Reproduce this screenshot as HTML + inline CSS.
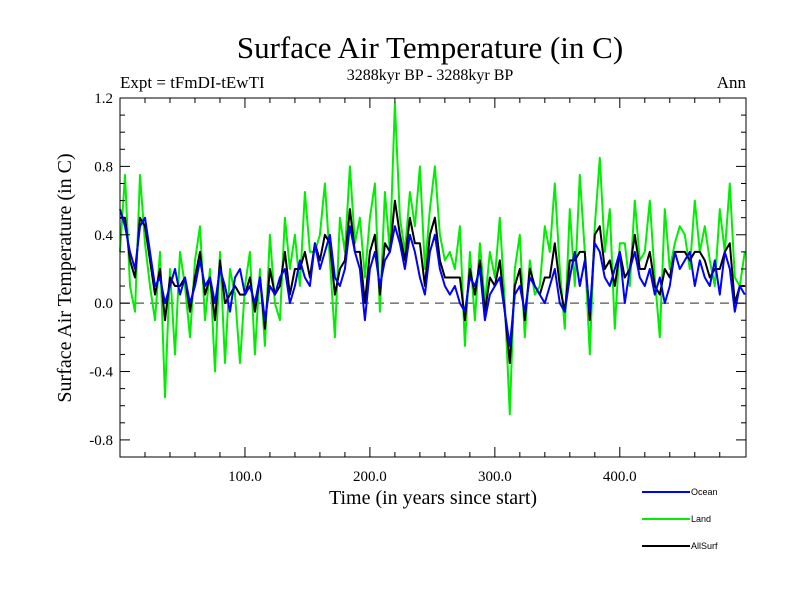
<!DOCTYPE html>
<html><head><meta charset="utf-8"><style>
body{margin:0;background:#fff;}
svg{display:block;font-family:"Liberation Serif",serif;}
</style></head><body>
<svg id="chart" width="800" height="600" viewBox="0 0 800 600">
<text x="430" y="58" font-size="31" text-anchor="middle">Surface Air Temperature (in C)</text>
<text x="430" y="80" font-size="16" text-anchor="middle">3288kyr BP - 3288kyr BP</text>
<text x="120" y="88" font-size="17">Expt = tFmDI-tEwTI</text>
<text x="746" y="88" font-size="17" text-anchor="end">Ann</text>
<text transform="translate(71,278) rotate(-90)" font-size="20" text-anchor="middle">Surface Air Temperature (in C)</text>
<text x="433" y="504" font-size="20" text-anchor="middle">Time (in years since start)</text>
<g id="plot"></g>
<g id="legend" font-family="Liberation Sans, sans-serif" font-size="9">
<line x1="642" y1="492" x2="690" y2="492" stroke="#0000ff" stroke-width="2"/>
<text x="691" y="495">Ocean</text>
<line x1="642" y1="519" x2="690" y2="519" stroke="#00ee00" stroke-width="2"/>
<text x="691" y="522">Land</text>
<line x1="642" y1="546" x2="690" y2="546" stroke="#000" stroke-width="2"/>
<text x="691" y="549">AllSurf</text>
</g>
</svg>
<script>
const yearStep = 4;
const oceanValues = [0.55,0.45,0.3,0.2,0.45,0.5,
0.3,0.1,0.15,0.0,0.1,0.2,0.05,0.15,0.0,0.1,
0.25,0.1,0.15,0.0,0.2,0.1,-0.05,0.15,0.2,0.05,
0.1,0.0,0.15,-0.1,0.1,0.05,0.15,0.2,0.0,0.1,
0.25,0.15,0.1,0.35,0.2,0.3,0.4,0.15,0.1,0.2,
0.45,0.3,0.2,-0.1,0.2,0.3,0.1,0.25,0.3,0.45,
0.35,0.2,0.4,0.3,0.15,0.05,0.3,0.4,0.2,0.1,
0.05,0.1,0.0,-0.05,0.15,0.1,0.2,-0.1,0.05,0.1,
0.15,-0.05,-0.25,0.05,0.1,-0.05,0.15,0.1,0.05,0.0,
0.1,0.2,0.0,-0.05,0.15,0.3,0.1,0.25,-0.05,0.35,
0.3,0.15,0.1,0.2,0.3,0.0,0.2,0.3,0.15,0.1,
0.2,0.05,0.15,0.0,0.1,0.3,0.2,0.25,0.3,0.1,
0.25,0.15,0.1,0.25,0.05,0.3,0.2,-0.05,0.1,0.05];
const landValues = [0.3,0.75,0.1,-0.05,0.75,0.35,
0.1,-0.1,0.3,-0.55,0.2,-0.3,0.3,0.1,-0.2,0.25,
0.45,-0.1,0.2,-0.4,0.3,-0.35,0.2,0.05,-0.35,0.1,
0.3,-0.3,0.2,-0.25,0.4,0.0,-0.1,0.5,0.2,0.4,
0.1,0.65,0.3,0.3,0.4,0.7,0.25,-0.2,0.5,0.3,
0.8,0.35,0.5,0.15,0.5,0.7,-0.05,0.65,0.3,1.17,
0.5,0.3,0.65,0.45,0.8,0.2,0.55,0.8,0.4,0.25,
0.3,0.2,0.45,-0.25,0.3,-0.1,0.35,0.0,0.3,0.15,
0.5,0.0,-0.65,0.2,0.4,-0.2,0.25,0.05,0.1,0.45,
0.3,0.7,0.2,-0.15,0.55,0.1,0.75,0.3,-0.3,0.45,
0.85,0.3,0.55,-0.15,0.35,0.35,0.1,0.6,0.25,0.3,
0.6,0.15,-0.2,0.55,0.2,0.35,0.45,0.4,0.2,0.6,
0.3,0.45,0.25,0.1,0.55,0.3,0.7,0.15,0.1,0.3];
const allSurfValues = [0.5,0.5,0.25,0.15,0.5,0.45,
0.25,0.05,0.2,-0.1,0.15,0.1,0.1,0.15,-0.05,0.15,
0.3,0.05,0.15,-0.1,0.25,0.0,0.05,0.1,0.05,0.05,
0.15,-0.05,0.15,-0.15,0.2,0.05,0.1,0.3,0.05,0.2,
0.2,0.3,0.15,0.35,0.25,0.4,0.35,0.05,0.2,0.25,
0.55,0.3,0.3,0.0,0.3,0.4,0.05,0.35,0.3,0.6,
0.4,0.25,0.5,0.35,0.35,0.1,0.4,0.5,0.25,0.15,
0.15,0.15,0.15,-0.1,0.2,0.05,0.25,-0.05,0.15,0.1,
0.25,-0.05,-0.35,0.1,0.2,-0.1,0.2,0.1,0.05,0.15,
0.15,0.35,0.1,-0.05,0.25,0.25,0.3,0.3,-0.1,0.4,
0.45,0.2,0.25,0.1,0.3,0.15,0.2,0.4,0.2,0.2,
0.3,0.1,0.05,0.2,0.15,0.3,0.3,0.3,0.25,0.3,
0.3,0.25,0.15,0.2,0.2,0.3,0.35,0.0,0.1,0.1];
const xTickLabels = ["100.0","200.0","300.0","400.0"];
const xTickValues = [100,200,300,400];
const yTickLabels = ["-0.8","-0.4","0.0","0.4","0.8","1.2"];
const yTickValues = [-0.8,-0.4,0,0.4,0.8,1.2];

const L=120,R=746,T=98,B=457,X0=0,X1=501,Y0=-0.9,Y1=1.2;
const sx=v=>L+(v-X0)/(X1-X0)*(R-L);
const sy=v=>B-(v-Y0)/(Y1-Y0)*(B-T);
const NS="http://www.w3.org/2000/svg";
const g=document.getElementById('plot');
function mk(tag,attrs){const e=document.createElementNS(NS,tag);for(const k in attrs)e.setAttribute(k,attrs[k]);g.appendChild(e);return e;}

const zero=mk('line',{x1:L,x2:R,y1:sy(0),y2:sy(0),stroke:'#555','stroke-width':1.2,'stroke-dasharray':'9,6'});



function series(vals,color,name){
  const d=vals.map((v,i)=>(i?'L':'M')+sx(i*yearStep).toFixed(1)+','+sy(v).toFixed(1)).join('');
  const p=mk('path',{d:d,fill:'none',stroke:color,'stroke-width':2,'stroke-linejoin':'round'});
  
  
}
series(landValues,'#00ee00','land-series-line');
series(allSurfValues,'#000000','allsurf-series-line');
series(oceanValues,'#0000ff','ocean-series-line');

const frame=mk('rect',{x:L,y:T,width:R-L,height:B-T,fill:'none',stroke:'#000','stroke-width':1});



for(let v=20;v<=480;v+=20){
  const major=v%100===0, len=major?10:5, x=sx(v);
  const t1=mk('line',{x1:x,x2:x,y1:B,y2:B-len,stroke:'#000'});
  
  
  const t2=mk('line',{x1:x,x2:x,y1:T,y2:T+len,stroke:'#000'});
  
  
}
xTickValues.forEach((v,i)=>{
  const t=mk('text',{x:sx(v),y:B+24,'font-size':15,'text-anchor':'middle'});
  t.textContent=xTickLabels[i];
  
  
});
for(let k=-8;k<=11;k++){
  const v=k/10, major=(k%4===0), len=major?10:5, y=sy(v);
  const t1=mk('line',{x1:L,x2:L+len,y1:y,y2:y,stroke:'#000'});
  
  
  const t2=mk('line',{x1:R,x2:R-len,y1:y,y2:y,stroke:'#000'});
  
  
}
yTickValues.forEach((v,i)=>{
  const t=mk('text',{x:L-7,y:sy(v)+5,'font-size':15,'text-anchor':'end'});
  t.textContent=yTickLabels[i];
  
  
});
</script>
</body></html>
